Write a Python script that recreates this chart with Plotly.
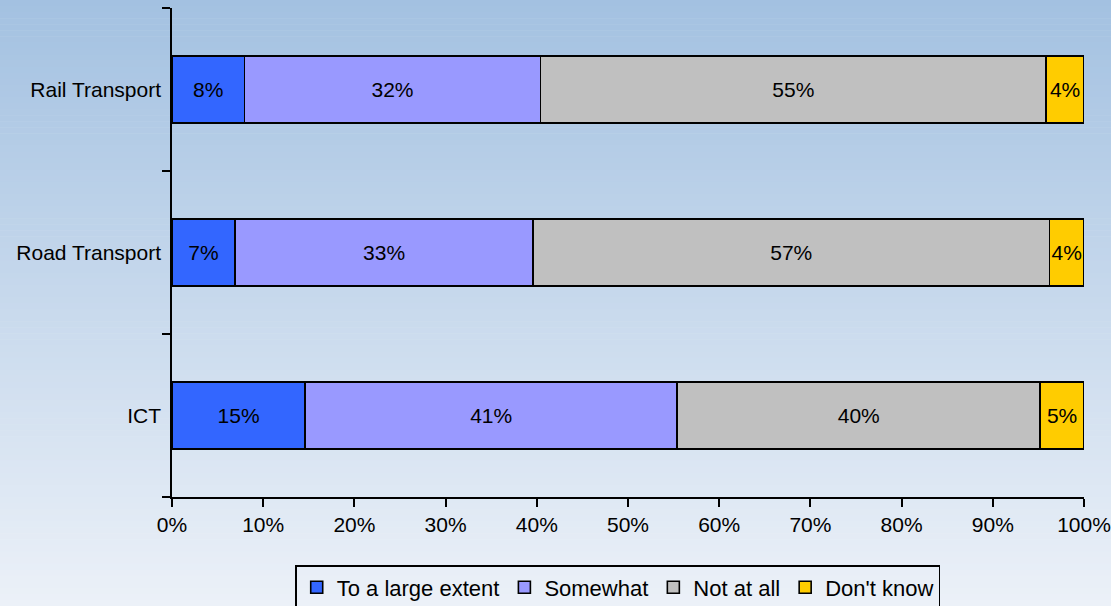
import plotly.graph_objects as go

categories = ["ICT", "Road Transport", "Rail Transport"]
large_extent = [14.6, 6.9, 7.95]
somewhat = [40.8, 32.7, 32.45]
not_at_all = [39.8, 56.6, 55.45]
dont_know = [4.8, 3.8, 4.15]

series = [
    ("To a large extent", large_extent, "#3366ff"),
    ("Somewhat", somewhat, "#9999ff"),
    ("Not at all", not_at_all, "#c0c0c0"),
    ("Don't know", dont_know, "#ffcc00"),
]

W, H = 1111, 606
ML, MR, MT, MB = 172, 27, 8, 109
PW, PH = W - ML - MR, H - MT - MB

FONT = "Liberation Sans, Arial, sans-serif"

fig = go.Figure()
for name, vals, color in series:
    fig.add_trace(go.Bar(
        y=categories, x=vals, name=name, orientation="h",
        marker=dict(color=color, line=dict(color="black", width=1.6)),
        texttemplate="%{x:.0f}%", textposition="inside",
        insidetextanchor="middle", textangle=0,
        textfont=dict(family=FONT, size=21, color="black"),
        hoverinfo="skip",
    ))

# background gradient (stripes across the whole page)
top = (163, 193, 225)
bot = (236, 241, 248)
n = 100
shapes = []
for i in range(n):
    py0 = H * i / n
    py1 = H * (i + 1) / n + 0.5
    t = (i + 0.5) / n
    c = tuple(round(top[k] + (bot[k] - top[k]) * t) for k in range(3))
    shapes.append(dict(
        type="rect", xref="paper", yref="paper", layer="below",
        x0=-ML / PW, x1=(W - ML) / PW,
        y0=(MT + PH - py1) / PH, y1=(MT + PH - py0) / PH,
        fillcolor="rgb(%d,%d,%d)" % c, line=dict(width=0),
    ))

fig.update_layout(
    width=W, height=H,
    margin=dict(l=ML, r=MR, t=MT, b=MB, autoexpand=False),
    barmode="stack", bargap=0.59,
    paper_bgcolor="rgb(236,241,248)", plot_bgcolor="rgba(0,0,0,0)",
    shapes=shapes,
    font=dict(family=FONT, size=21, color="black"),
    uniformtext=dict(minsize=21, mode="show"),
    showlegend=True,
    legend=dict(
        orientation="h", traceorder="normal",
        xref="container", yref="container",
        x=0.556, xanchor="center", y=(H - 565) / H, yanchor="top",
        bordercolor="black", borderwidth=1.5, bgcolor="rgba(0,0,0,0)",
        font=dict(family=FONT, size=22, color="black"),
        itemclick=False,
    ),
    xaxis=dict(
        range=[0, 100], tickmode="linear", tick0=0, dtick=10, ticksuffix="%",
        ticks="outside", ticklen=8, tickwidth=1.5, tickcolor="black",
        showline=True, linecolor="black", linewidth=1.5,
        showgrid=False, zeroline=False, fixedrange=True,
        tickfont=dict(family=FONT, size=21),
    ),
    yaxis=dict(
        range=[-0.5, 2.5], tickson="boundaries",
        ticks="outside", ticklen=8, tickwidth=1.5, tickcolor="black",
        showline=True, linecolor="black", linewidth=1.5,
        showgrid=False, zeroline=False, fixedrange=True,
        ticklabelstandoff=5,
        tickfont=dict(family=FONT, size=21),
    ),
)

fig.write_html("out.html")
